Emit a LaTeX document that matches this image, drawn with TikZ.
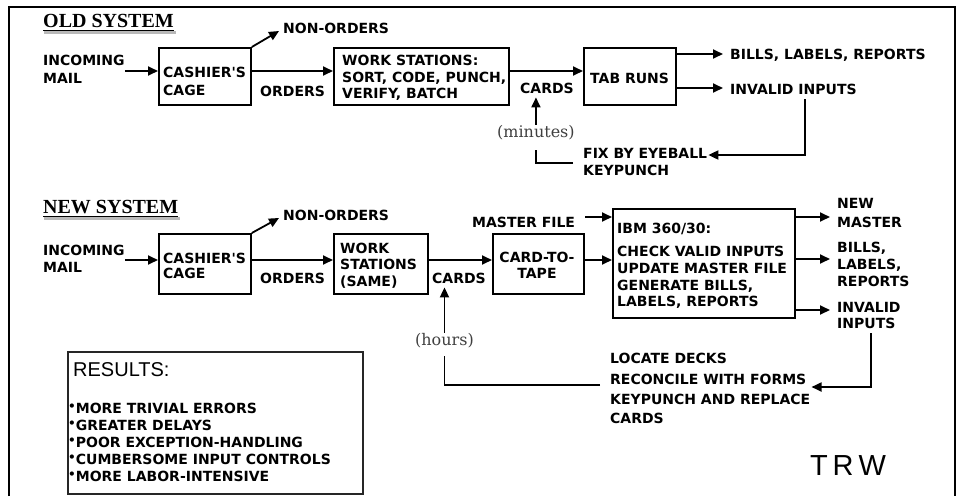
\documentclass[tikz,border=0pt]{standalone}
\usepackage{fontspec}
\usetikzlibrary{arrows.meta,calc}
\newfontfamily\labfont{DejaVu Sans}
\newfontfamily\hdrfont{Liberation Serif}
\newfontfamily\parfont{DejaVu Serif}
\newfontfamily\resfont{Liberation Sans}
\newcommand\bulmark{\raisebox{2.5pt}{\fontsize{12}{12}\selectfont •}}
\begin{document}
\begin{tikzpicture}[x=1pt,y=-1pt,
  lbl/.style={font=\labfont\bfseries\fontsize{14}{17}\selectfont, inner sep=0pt, anchor=base west},
  clbl/.style={lbl, anchor=base},
  hdr/.style={font=\hdrfont\bfseries\fontsize{20}{22}\selectfont, inner sep=0pt, anchor=base west},
  par/.style={font=\parfont\fontsize{16}{18}\selectfont, text=black!75, inner sep=0pt, anchor=base west},
  box/.style={draw, line width=1.8pt, anchor=north west, inner sep=0pt},
  ln/.style={line width=1.8pt},
  arr/.style={line width=1.8pt, -{Triangle[length=10pt,width=9pt]}},
  bul/.style={lbl},
]
\useasboundingbox (0,0) rectangle (962,496);
% frame
\draw[line width=2pt] (9,496) -- (9,7) -- (955,7) -- (955,496);

% ---------------- OLD SYSTEM ----------------
\node[hdr] (old) at (43,27) {OLD SYSTEM};
\draw[gray!55, line width=3pt] ($(old.base west)+(1,5)$) -- ($(old.base east)+(2,5)$);
\draw[line width=1pt] ($(old.base west)+(0,3)$) -- ($(old.base east)+(0,3)$);

\node[lbl] (mail1a) at (43,65) {INCOMING};
\node[lbl] (mail1b) at (43,83) {MAIL};
\node[box, minimum width=92pt, minimum height=57pt] (cage1) at (158,47) {};
\node[lbl] (cage1a) at (163,77) {CASHIER'S};
\node[lbl] (cage1b) at (163,95) {CAGE};
\node[lbl] (no1) at (283,33) {NON-ORDERS};
\node[lbl] (ord1) at (260,96) {ORDERS};
\node[box, minimum width=175pt, minimum height=57pt] (ws1) at (333,47) {};
\node[lbl] (ws1a) at (342,65) {WORK STATIONS:};
\node[lbl] (ws1b) at (342,82) {SORT, CODE, PUNCH,};
\node[lbl] (ws1c) at (342,98) {VERIFY, BATCH};
\node[lbl] (cards1) at (520,93) {CARDS};
\node[par] (min1) at (497,137) {(minutes)};
\node[box, minimum width=92pt, minimum height=57pt] (tab1) at (583,47) {};
\node[lbl] (tab1a) at (590,83) {TAB RUNS};
\node[lbl] (bills1) at (730,59) {BILLS, LABELS, REPORTS};
\node[lbl] (inv1) at (730,94) {INVALID INPUTS};
\node[lbl] (fix1a) at (583,158) {FIX BY EYEBALL};
\node[lbl] (fix1b) at (583,175) {KEYPUNCH};

\coordinate (r1) at (0,71);
\coordinate (r1b) at (0,54);
\coordinate (r1c) at (0,88);
\coordinate (fbx1) at (805,99);
\draw[arr] (mail1a.east |- r1) -- (cage1.west |- r1);
\draw[arr] (cage1.north east) -- ($(no1.base west)+(-4,-2)$);
\draw[arr] (cage1.east |- r1) -- (ws1.west |- r1);
\draw[arr] (ws1.east |- r1) -- (tab1.west |- r1);
\draw[arr] (tab1.east |- r1b) -- ($(bills1.base west |- r1b)+(-7,0)$);
\draw[arr] (tab1.east |- r1c) -- ($(inv1.base west |- r1c)+(-7,0)$);
\draw[arr] (fbx1) |- ($(fix1a.base east)+(1,-3)$);
\draw[ln] ($(fix1a.base west)+(-10,5)$) -| ($(min1.south)+(0,10)$);
\draw[arr] (min1.north) -- ($(min1.north |- cards1.south)+(0,4)$);

% ---------------- NEW SYSTEM ----------------
\node[hdr] (new) at (43,213) {NEW SYSTEM};
\draw[gray!55, line width=3pt] ($(new.base west)+(1,5)$) -- ($(new.base east)+(2,5)$);
\draw[line width=1pt] ($(new.base west)+(0,3)$) -- ($(new.base east)+(0,3)$);

\node[lbl] (mail2a) at (43,255) {INCOMING};
\node[lbl] (mail2b) at (43,272) {MAIL};
\node[box, minimum width=92pt, minimum height=60pt] (cage2) at (158,233) {};
\node[lbl] (cage2a) at (163,263) {CASHIER'S};
\node[lbl] (cage2b) at (163,278) {CAGE};
\node[lbl] (no2) at (283,220) {NON-ORDERS};
\node[lbl] (ord2) at (260,283) {ORDERS};
\node[box, minimum width=94pt, minimum height=60pt] (ws2) at (333,233) {};
\node[lbl] (ws2a) at (340,253) {WORK};
\node[lbl] (ws2b) at (340,269) {STATIONS};
\node[lbl] (ws2c) at (340,286) {(SAME)};
\node[lbl] (cards2) at (432,283) {CARDS};
\node[par] (hrs) at (415,345) {(hours)};
\node[box, minimum width=91pt, minimum height=60pt] (c2t) at (492,233) {};
\node[clbl] (c2ta) at (537,262) {CARD-TO-};
\node[clbl] (c2tb) at (537,278) {TAPE};
\node[lbl] (mf) at (472,227) {MASTER FILE};
\node[box, minimum width=182pt, minimum height=109pt] (ibm) at (612,208) {};
\node[lbl] (ibma) at (617,233) {IBM 360/30:};
\node[lbl] (ibmb) at (617,256) {CHECK VALID INPUTS};
\node[lbl] (ibmc) at (617,273) {UPDATE MASTER FILE};
\node[lbl] (ibmd) at (617,290) {GENERATE BILLS,};
\node[lbl] (ibme) at (617,306) {LABELS, REPORTS};
\node[lbl] (nm2a) at (837,208) {NEW};
\node[lbl] (nm2b) at (837,227) {MASTER};
\node[lbl] (bl2a) at (837,252) {BILLS,};
\node[lbl] (bl2b) at (837,269) {LABELS,};
\node[lbl] (bl2c) at (837,286) {REPORTS};
\node[lbl] (iv2a) at (837,312) {INVALID};
\node[lbl] (iv2b) at (837,328) {INPUTS};
\node[lbl] (loc2a) at (610,363) {LOCATE DECKS};
\node[lbl] (loc2b) at (610,384) {RECONCILE WITH FORMS};
\node[lbl] (loc2c) at (610,404) {KEYPUNCH AND REPLACE};
\node[lbl] (loc2d) at (610,423) {CARDS};

\coordinate (r2) at (0,260);
\coordinate (r2m) at (0,217);
\coordinate (r2b) at (0,259);
\coordinate (r2c) at (0,310);
\coordinate (fbx2) at (871,333);
\draw[arr] (mail2a.east |- r2) -- (cage2.west |- r2);
\draw[arr] (cage2.north east) -- ($(no2.base west)+(-4,-2)$);
\draw[arr] (cage2.east |- r2) -- (ws2.west |- r2);
\draw[arr] (ws2.east |- r2) -- (c2t.west |- r2);
\draw[arr] (c2t.east |- r2) -- (ibm.west |- r2);
\draw[arr] ($(mf.base east |- r2m)+(10,0)$) -- (ibm.west |- r2m);
\draw[arr] (ibm.east |- r2m) -- ($(nm2a.base west |- r2m)+(-7,0)$);
\draw[arr] (ibm.east |- r2b) -- ($(bl2a.base west |- r2b)+(-7,0)$);
\draw[arr] (ibm.east |- r2c) -- ($(iv2a.base west |- r2c)+(-7,0)$);
\draw[arr] (fbx2) |- ($(loc2b.base east)+(5,3)$);
\draw[ln] ($(loc2b.base west)+(-10,1)$) -| ($(hrs.south)+(0,8)$);
\draw[arr] (hrs.north) -- ($(hrs.north |- cards2.south)+(0,4)$);

% ---------------- RESULTS ----------------
\draw[gray!50, line width=2pt] (70,494) -- (364,494);
\node[box, draw=black!85, line width=1.5pt, minimum width=295pt, minimum height=142pt] (res) at (67,351) {};
\node[font=\resfont\fontsize{20}{22}\selectfont, inner sep=0pt, anchor=base west] (resh) at (73,376) {RESULTS:};
\node[bul] (r1t) at (68,413) {\bulmark MORE TRIVIAL ERRORS};
\node[bul] (r2t) at (68,430) {\bulmark GREATER DELAYS};
\node[bul] (r3t) at (68,447) {\bulmark POOR EXCEPTION-HANDLING};
\node[bul] (r4t) at (68,464) {\bulmark CUMBERSOME INPUT CONTROLS};
\node[bul] (r5t) at (68,481) {\bulmark MORE LABOR-INTENSIVE};

\node[font=\resfont\fontsize{29}{30}\selectfont, inner sep=0pt, anchor=base west] (trw) at (810,475) {T\,R\,W};
\end{tikzpicture}
\end{document}
